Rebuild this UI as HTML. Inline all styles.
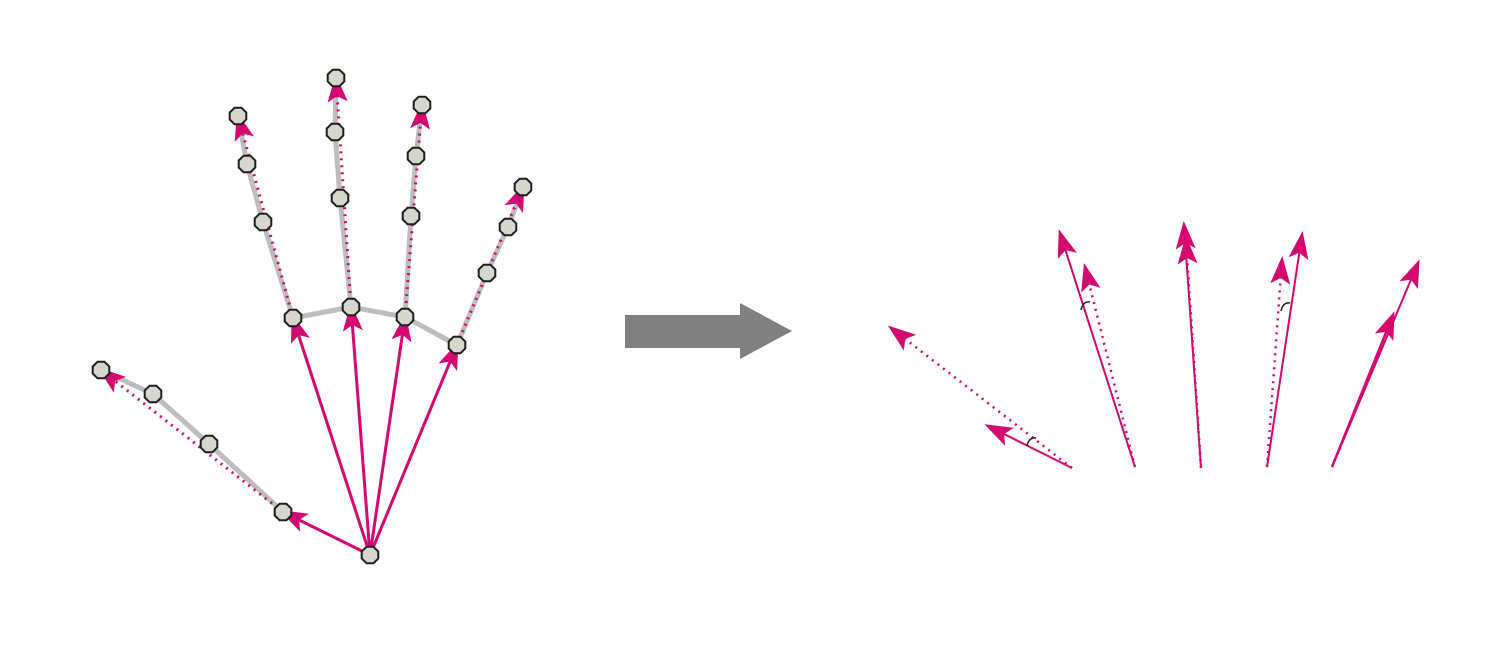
<!DOCTYPE html>
<html><head><meta charset="utf-8"><style>
html,body{margin:0;padding:0;background:#fff;}
svg{display:block;}
</style></head><body>
<svg id="fig" width="1512" height="661" viewBox="0 0 1512 661" xmlns="http://www.w3.org/2000/svg">
<defs>
<marker id="ah" markerWidth="28" markerHeight="20" refX="24" refY="10" orient="auto" markerUnits="userSpaceOnUse">
<path d="M0,0 L28,10 L0,20 L6,10 Z" fill="#d4086e"/>
</marker>
</defs>
<g id="left"></g>
<g>
<path d="M625,315 L740,315 L740,303 L792,331 L740,359 L740,348 L625,348 Z" fill="#808080"/>
</g>
<g id="right"></g>
</svg>
<script>
const NS='http://www.w3.org/2000/svg';
const wrist=[370,555];
const fingerNames=['thumb','index','middle','ring','pinky'];
const fingerJoints=[
 [[283,512],[209,444],[153,394],[101,370]],
 [[293,318],[263,222],[247,164],[238,116]],
 [[351,307],[340,198],[335,132],[336,78]],
 [[405,317],[411,216],[416,156],[422,105]],
 [[457,345],[487,273],[508,227],[523,187]]
];
const rightOrigins=[[1072,468],[1135,467],[1201,468],[1267,467],[1332,467]];
const rightSolidTips=[[988,426],[1060,233],[1184,225],[1302,235],[1418,263]];
const rightDottedTips=[[891,328],[1085,267],[1186,240],[1282,260],[1393,315]];
const rightArcs=[[1031,442],[1085,306],[1285,307]];

function mk(tag,attrs,parent){const e=document.createElementNS(NS,tag);for(const k in attrs)e.setAttribute(k,attrs[k]);parent.appendChild(e);return e;}
const L=document.getElementById('left'), R=document.getElementById('right');
const M='#d4086e';
const mcps=fingerJoints.slice(1).map(f=>f[0]);
let pal=mk('polyline',{points:mcps.map(p=>p.join(',')).join(' '),fill:'none',stroke:'#bdbdbd','stroke-width':5},L);


fingerJoints.forEach((f,i)=>{
 const g=mk('polyline',{points:f.map(p=>p.join(',')).join(' '),fill:'none',stroke:'#bdbdbd','stroke-width':5},L);
 
 
});
fingerJoints.forEach((f,i)=>{
 const a=mk('line',{x1:wrist[0],y1:wrist[1],x2:f[0][0],y2:f[0][1],stroke:M,'stroke-width':3,'marker-end':'url(#ah)'},L);
 
 
 const d=mk('line',{x1:f[0][0],y1:f[0][1],x2:f[3][0],y2:f[3][1],stroke:M,'stroke-width':3,'stroke-dasharray':'2 5','marker-end':'url(#ah)'},L);
 
 
});
function oct(c,parent,name){
 const r=9;let pts=[];for(let k=0;k<8;k++){const t=Math.PI/8+k*Math.PI/4;pts.push((c[0]+r*Math.cos(t)).toFixed(1)+','+(c[1]+r*Math.sin(t)).toFixed(1));}
 const o=mk('polygon',{points:pts.join(' '),fill:'#d6d6cc',stroke:'#1e1e1e','stroke-width':2},parent);
 
 
}
oct(wrist,L,'wrist-keypoint');
fingerJoints.forEach((f,i)=>f.forEach((p,j)=>oct(p,L,fingerNames[i]+'-keypoint-'+j)));
rightOrigins.forEach((o,i)=>{
 const d=mk('line',{x1:o[0],y1:o[1],x2:rightDottedTips[i][0],y2:rightDottedTips[i][1],stroke:M,'stroke-width':2.5,'stroke-dasharray':i===4?'none':'2 5','marker-end':'url(#ah)'},R);
 
 
 const s=mk('line',{x1:o[0],y1:o[1],x2:rightSolidTips[i][0],y2:rightSolidTips[i][1],stroke:M,'stroke-width':2,'marker-end':'url(#ah)'},R);
 
 
});
rightArcs.forEach((c,i)=>{
 const a=mk('path',{d:`M${c[0]-4},${c[1]+4} Q${c[0]-2},${c[1]-5} ${c[0]+5},${c[1]-4}`,fill:'none',stroke:'#222','stroke-width':1.5},R);
 
 
});
</script>
</body></html>
